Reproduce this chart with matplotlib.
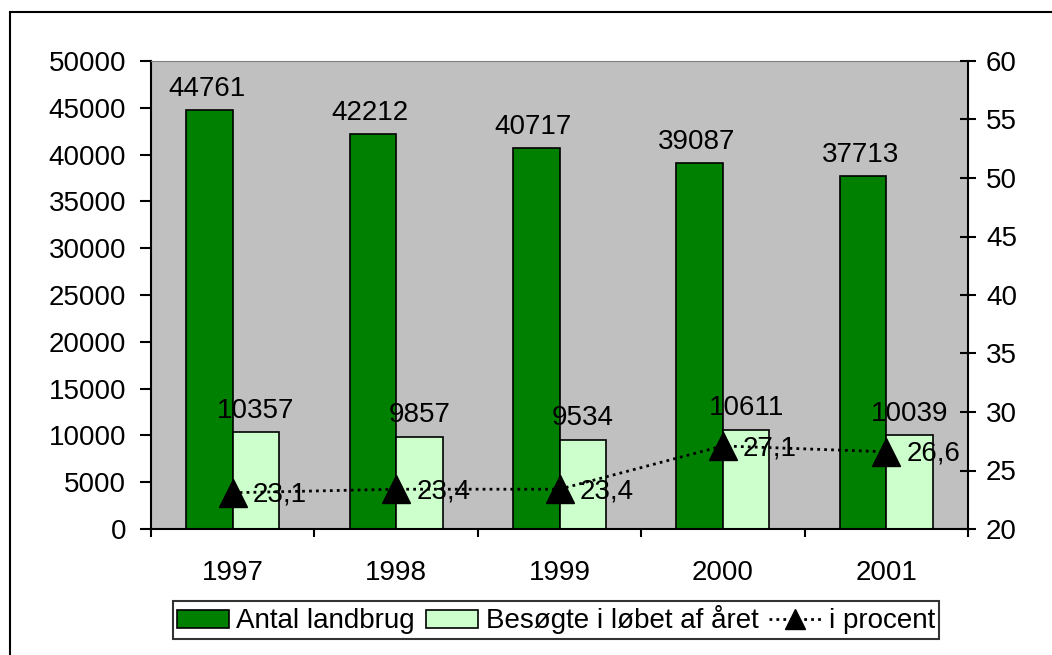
import matplotlib
matplotlib.use("Agg")
import matplotlib.pyplot as plt
from matplotlib.patches import Rectangle, Patch
from matplotlib.lines import Line2D
import numpy as np

plt.rcParams['font.family'] = ['Liberation Sans', 'DejaVu Sans']

years = ["1997", "1998", "1999", "2000", "2001"]
antal = [44761, 42212, 40717, 39087, 37713]
besogte = [10357, 9857, 9534, 10611, 10039]
procent = [23.1, 23.4, 23.4, 27.1, 26.6]
procent_labels = ["23,1", "23,4", "23,4", "27,1", "26,6"]

W, H = 1052, 655
fig = plt.figure(figsize=(W/100, H/100), dpi=100)
fig.patch.set_facecolor("white")

# outer frame
fig.add_artist(Rectangle((10/W, -0.05), 1.1, 1 - 12/H + 0.05, transform=fig.transFigure,
                         fill=False, edgecolor="black", linewidth=1.5))

ax = fig.add_axes([151/W, 1 - 529/H, (968-151)/W, (529-61)/H])
ax.set_facecolor("#C0C0C0")
x = np.arange(len(years))
bw = 0.285
fs = 20

b1 = ax.bar(x - bw/2, antal, bw, color="#008000", edgecolor="black", linewidth=1.2, zorder=2)
b2 = ax.bar(x + bw/2, besogte, bw, color="#CCFFCC", edgecolor="black", linewidth=1.2, zorder=2)
ax.set_xlim(-0.5, len(years) - 0.5)
ax.set_ylim(0, 50000)
ax.set_yticks(np.arange(0, 50001, 5000))
ax.set_xticks(x)
ax.set_xticklabels(years)
ax.set_xticks(np.arange(-0.5, len(years)), minor=True)
ax.tick_params(axis="x", which="major", length=0, labelsize=fs, pad=22)
ax.tick_params(axis="x", which="minor", length=6, width=1.5, direction="out")
ax.tick_params(axis="y", length=8, width=1.5, direction="out", labelsize=fs, pad=10)
ax.spines["top"].set_color("#808080")
ax.spines["left"].set_linewidth(1.5)
ax.spines["bottom"].set_linewidth(1.5)
ax.spines["right"].set_visible(False)

for xi, v in zip(x, antal):
    ax.annotate(str(v), (xi - bw/2, v), xytext=(-2, 6), textcoords="offset points",
                ha="center", va="bottom", fontsize=fs)
for xi, v in zip(x, besogte):
    ax.annotate(str(v), (xi + bw/2, v), xytext=(0, 6), textcoords="offset points",
                ha="center", va="bottom", fontsize=fs, zorder=5)

ax2 = ax.twinx()
ax2.set_ylim(20, 60)
ax2.set_yticks(np.arange(20, 61, 5))
ax2.tick_params(axis="y", length=12, width=1.5, direction="inout", labelsize=fs, pad=7)
for s in ["left", "top", "bottom"]:
    ax2.spines[s].set_visible(False)
ax2.spines["right"].set_linewidth(1.5)
ax2.plot(x, procent, linestyle=(0, (1, 1.5)), color="black", linewidth=2,
         marker="^", markersize=20, markerfacecolor="black", zorder=4)
for xi, v, lab in zip(x, procent, procent_labels):
    ax2.annotate(lab, (xi, v), xytext=(14.5, -1.5), textcoords="offset points",
                 ha="left", va="center", fontsize=fs, zorder=5)

handles = [Patch(facecolor="#008000", edgecolor="black", linewidth=1.2),
           Patch(facecolor="#CCFFCC", edgecolor="black", linewidth=1.2),
           Line2D([], [], linestyle=(0, (1, 1.5)), color="black", linewidth=2,
                  marker="^", markersize=14)]
leg = fig.legend(handles, ["Antal landbrug", "Besøgte i løbet af året", "i procent"],
                 loc="center", bbox_to_anchor=(556/W, 1 - 620/H), ncol=3, fontsize=20,
                 frameon=True, fancybox=False, edgecolor="black", borderpad=0.15,
                 handlelength=1.87, handleheight=0.6, handletextpad=0.27, columnspacing=0.4,
                 borderaxespad=0)
leg.get_frame().set_linewidth(1.5)

fig.savefig("out.png", dpi=100)
